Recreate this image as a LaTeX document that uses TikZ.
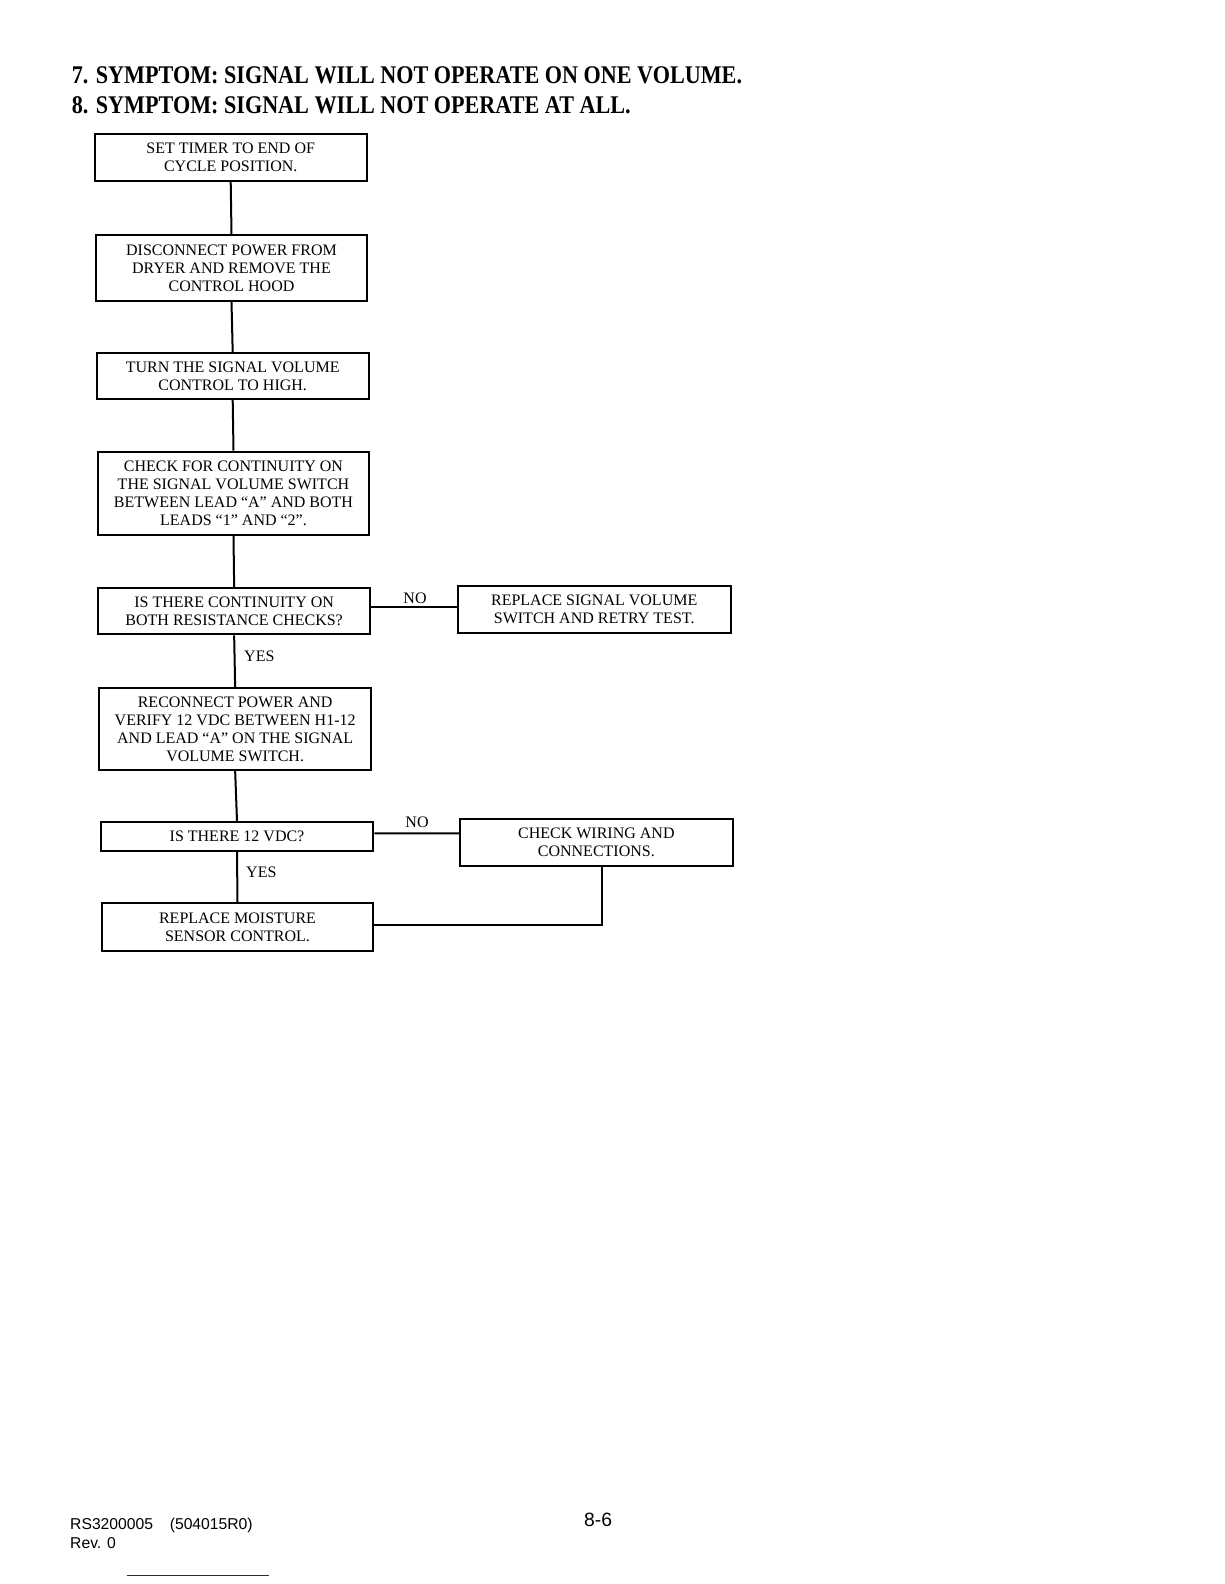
\documentclass[tikz,border=0pt]{standalone}
\usepackage{fontspec}
\usepackage{graphicx}
\setmainfont{Liberation Serif}
\newfontfamily\footfont{Liberation Sans}
\definecolor{linkblue}{RGB}{25,35,160}
\begin{document}
\begin{tikzpicture}[x=1pt,y=-1pt,
  box/.style={draw, line width=2pt, align=center, inner sep=0pt,
    font=\fontsize{16}{18}\selectfont},
  lbl/.style={font=\fontsize{16}{18}\selectfont, inner sep=0pt, anchor=base},
  conn/.style={line width=2pt},
  titletext/.style={font=\bfseries\fontsize{24}{28}\selectfont, anchor=base west, inner sep=0pt},
  foottext/.style={font=\footfont\fontsize{15.7}{19}\selectfont, anchor=base west, inner sep=0pt}]
\useasboundingbox[fill=white] (0,0) rectangle (1224,1584);

% titles
\node[titletext] (t1) at (71.7,84) {\scalebox{0.923}[1.06]{7. SYMPTOM: SIGNAL WILL NOT OPERATE ON ONE VOLUME.}};
\node[titletext] (t2) at (71.7,113.5) {\scalebox{0.923}[1.06]{8. SYMPTOM: SIGNAL WILL NOT OPERATE AT ALL.}};

% boxes
\node[box, minimum width=272pt, minimum height=46.4pt] (b1) at (230.7,157.5)
  {SET TIMER TO END OF\\CYCLE POSITION.};
\node[box, minimum width=271.6pt, minimum height=65.7pt] (b2) at (231.5,267.85)
  {DISCONNECT POWER FROM\\DRYER AND REMOVE THE\\CONTROL HOOD};
\node[box, minimum width=272pt, minimum height=45.7pt] (b3) at (232.7,376.15)
  {TURN THE SIGNAL VOLUME\\CONTROL TO HIGH.};
\node[box, minimum width=270.4pt, minimum height=83.3pt] (b4) at (233.5,493.35)
  {CHECK FOR CONTINUITY ON\\THE SIGNAL VOLUME SWITCH\\BETWEEN LEAD “A” AND BOTH\\LEADS “1” AND “2”.};
\node[box, minimum width=271.7pt, minimum height=46pt] (b5) at (234.15,611.3)
  {IS THERE CONTINUITY ON\\BOTH RESISTANCE CHECKS?};
\node[box, minimum width=273pt, minimum height=47pt] (b6) at (594.2,609.2)
  {REPLACE SIGNAL VOLUME\\SWITCH AND RETRY TEST.};
\node[box, minimum width=271.7pt, minimum height=81.7pt] (b7) at (235.15,729.15)
  {RECONNECT POWER AND\\VERIFY 12 VDC BETWEEN H1-12\\AND LEAD “A” ON THE SIGNAL\\VOLUME SWITCH.};
\node[box, minimum width=272.6pt, minimum height=28.7pt] (b8) at (237,836.65)
  {IS THERE 12 VDC?};
\node[box, minimum width=272.7pt, minimum height=47pt] (b9) at (596.35,842.5)
  {CHECK WIRING AND\\CONNECTIONS.};
\node[box, minimum width=271.6pt, minimum height=47.7pt] (b10) at (237.5,927.15)
  {REPLACE MOISTURE\\SENSOR CONTROL.};

% connectors
\draw[conn] (b1.south) -- (b2.north);
\draw[conn] (b2.south) -- (b3.north);
\draw[conn] (b3.south) -- (b4.north);
\draw[conn] (b4.south) -- (b5.north);
\draw[conn] (b5.south) -- (b7.north);
\draw[conn] (b7.south) -- (b8.north);
\draw[conn] (b8.south) -- (b10.north);
\draw[conn] ([yshift=4.6pt]b5.east) -- ([yshift=2.5pt]b6.west);
\draw[conn] ([yshift=3.35pt]b8.east) -- ([yshift=9.2pt]b9.west);
\draw[conn] ([xshift=5.65pt]b9.south) |- ([yshift=2.15pt]b10.east);

% labels
\node[lbl] (no1) at (415,603.3) {NO};
\node[lbl, anchor=base west] (yes1) at (244,661) {YES};
\node[lbl] (no2) at (417,827.3) {NO};
\node[lbl, anchor=base west] (yes2) at (246,877.3) {YES};

% footer
\node[foottext] (f1) at (70,1529.3) {RS3200005\hspace{16.7pt}(504015R0)};
\node[foottext] (f2) at (70,1548.3) {Rev. 0};
\node[foottext, font=\footfont\fontsize{19.3}{22}\selectfont] (pg) at (584,1526.7) {8-6};
\draw[linkblue, line width=1.2pt] (126.7,1575.7) -- (269,1575.7);
\end{tikzpicture}
\end{document}
